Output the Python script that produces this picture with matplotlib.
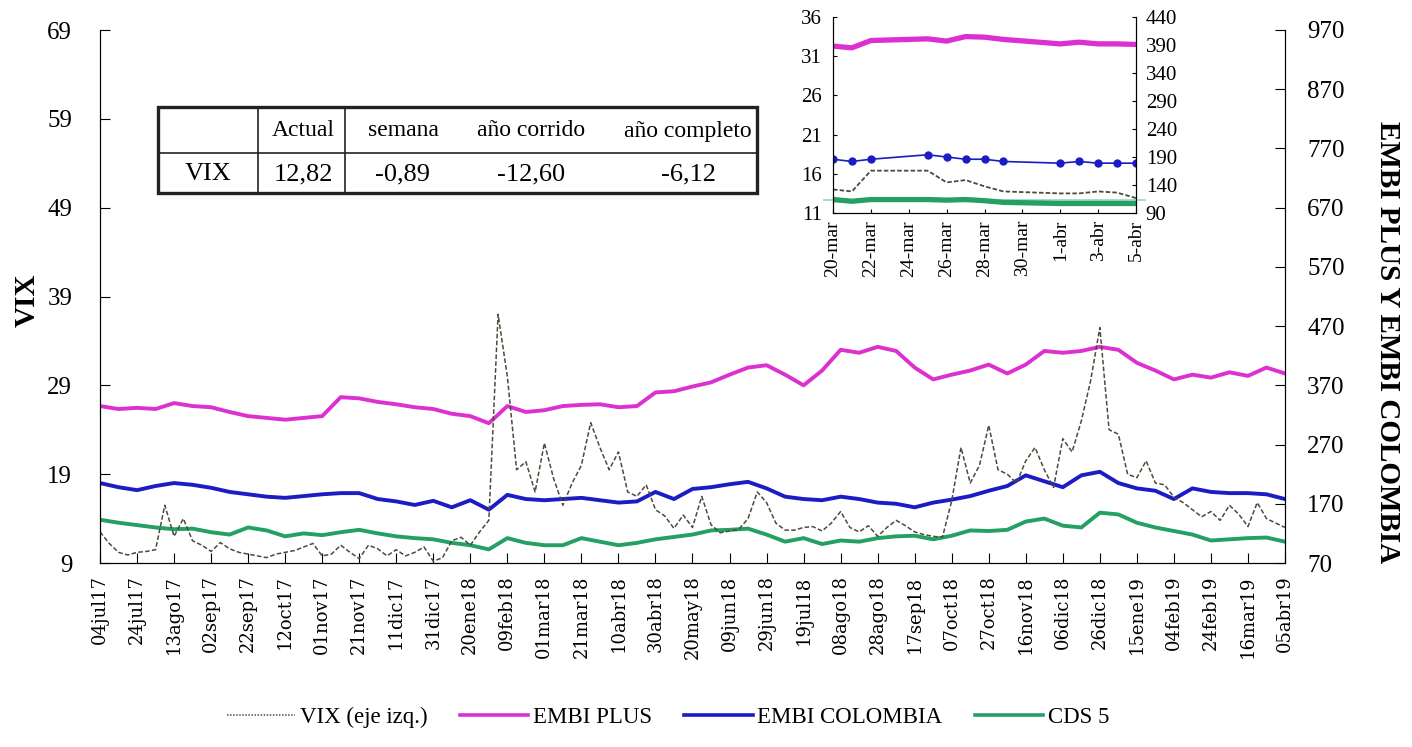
import matplotlib.pyplot as plt
import numpy as np
import pandas as pd
from matplotlib.lines import Line2D
from matplotlib.patches import Rectangle

plt.rcParams['font.family'] = ['Liberation Serif', 'DejaVu Serif']

# --- datos ---
inicio = pd.Timestamp('2017-07-04')
fechas_vix = pd.date_range(inicio, periods=129, freq='5D')
fechas_spread = pd.date_range(inicio, periods=65, freq='10D')

vix = [12.5, 11.2, 10.2, 9.9, 10.2, 10.3, 10.5, 15.5, 12.0, 14.0,
       11.5, 11.0, 10.3, 11.3, 10.6, 10.2, 10.0, 9.8, 9.6, 10.0,
       10.2, 10.4, 10.8, 11.2, 9.8, 10.0, 11.0, 10.2, 9.5, 11.0,
       10.6, 9.8, 10.5, 9.8, 10.2, 10.8, 9.2, 9.6, 11.5, 11.9,
       11.0, 12.5, 13.8, 37.0, 30.0, 19.5, 20.4, 17.0, 22.5, 18.5,
       15.5, 18.0, 20.0, 24.8, 22.0, 19.5, 21.5, 17.0, 16.5, 17.8,
       15.0, 14.3, 12.9, 14.4, 13.0, 16.5, 13.3, 12.4, 12.6, 12.8,
       14.0, 17.0, 15.8, 13.5, 12.7, 12.7, 13.0, 13.1, 12.6, 13.5,
       14.8, 13.0, 12.5, 13.2, 12.0, 13.0, 13.8, 13.2, 12.5, 12.2,
       12.0, 11.9, 16.0, 22.0, 18.0, 20.0, 24.5, 19.5, 19.0, 18.0,
       20.5, 22.0, 19.5, 17.5, 23.0, 21.5, 25.0, 29.5, 35.5, 24.0,
       23.5, 19.0, 18.6, 20.5, 18.0, 17.8, 16.4, 15.8, 15.0, 14.2,
       14.8, 13.8, 15.5, 14.5, 13.1, 15.8, 14.0, 13.5, 13.0]

embi_plus = [335, 330, 332, 330, 340, 335, 333, 325, 318, 315,
             312, 315, 318, 350, 348, 342, 338, 333, 330, 322,
             318, 306, 335, 325, 328, 335, 337, 338, 333, 335,
             358, 360, 368, 375, 388, 400, 404, 388, 370, 395,
             430, 425, 435, 428, 400, 380, 388, 395, 405, 390,
             405, 428, 425, 428, 435, 430, 408, 395, 380, 388,
             383, 392, 386, 400, 390]

embi_col = [205, 198, 193, 200, 205, 202, 197, 190, 186, 182,
            180, 183, 186, 188, 188, 178, 174, 168, 175, 164,
            176, 160, 185, 178, 176, 178, 180, 176, 172, 174,
            190, 178, 195, 198, 203, 207, 196, 182, 178, 176,
            182, 178, 172, 170, 164, 172, 177, 183, 192, 200,
            218, 208, 198, 218, 224, 205, 196, 192, 178, 196,
            190, 188, 188, 186, 178]

cds5 = [143, 138, 134, 130, 127, 128, 122, 118, 130, 125,
        115, 120, 117, 122, 126, 120, 115, 112, 110, 104,
        100, 93, 112, 104, 100, 100, 112, 106, 100, 104,
        110, 114, 118, 125, 126, 128, 118, 106, 112, 102,
        108, 106, 112, 115, 116, 110, 116, 125, 124, 126,
        140, 145, 133, 130, 155, 152, 138, 130, 124, 118,
        108, 110, 112, 113, 106]

fechas_ticks = pd.date_range(inicio, periods=33, freq='20D')
etiquetas_x = ['04jul17', '24jul17', '13ago17', '02sep17', '22sep17', '12oct17',
               '01nov17', '21nov17', '11dic17', '31dic17', '20ene18', '09feb18',
               '01mar18', '21mar18', '10abr18', '30abr18', '20may18', '09jun18',
               '29jun18', '19jul18', '08ago18', '28ago18', '17sep18', '07oct18',
               '27oct18', '16nov18', '06dic18', '26dic18', '15ene19', '04feb19',
               '24feb19', '16mar19', '05abr19']

# recuadro: ultimas semanas
fechas_zoom = pd.to_datetime(['2019-03-20', '2019-03-21', '2019-03-22', '2019-03-25',
                              '2019-03-26', '2019-03-27', '2019-03-28', '2019-03-29',
                              '2019-04-01', '2019-04-02', '2019-04-03', '2019-04-04',
                              '2019-04-05'])
vix_zoom = [14.0, 13.75, 16.4, 16.4, 14.9, 15.2, 14.4, 13.75, 13.5, 13.5, 13.75, 13.6, 12.9]
embi_plus_zoom = [388, 385, 398, 401, 397, 405, 404, 400, 392, 395, 392, 392, 391]
embi_col_zoom = [186, 182, 186, 194, 190, 186, 186, 182, 179, 182, 179, 179, 179]
cds5_zoom = [114, 111, 114, 114, 113, 114, 112, 109, 107, 107, 107, 107, 107]
ticks_zoom = pd.date_range('2019-03-20', '2019-04-05', freq='2D')
etiquetas_zoom = ['20-mar', '22-mar', '24-mar', '26-mar', '28-mar', '30-mar',
                  '1-abr', '3-abr', '5-abr']

tabla_cab = ['', 'Actual', 'semana', 'año corrido', 'año completo']
tabla_fila = ['VIX', '12,82', '-0,89', '-12,60', '-6,12']

C_VIX = '#4d4a3c'
C_PLUS = '#dd30d0'
C_COL = '#1c1cc4'
C_CDS = '#23a062'

W, H = 1412, 747
fig = plt.figure(figsize=(W / 100, H / 100), dpi=100)


def fx(x):
    return x / W


def fy(y):
    return 1 - y / H


# --- grafico principal ---
ax = fig.add_axes([fx(100), fy(563), fx(1285) - fx(100), fy(30) - fy(563)])
ax2 = ax.twinx()
ax.set_zorder(ax2.get_zorder() + 1)
ax.patch.set_visible(False)

ax2.plot(fechas_spread, embi_plus, color=C_PLUS, lw=2.8)
ax2.plot(fechas_spread, embi_col, color=C_COL, lw=2.8)
ax2.plot(fechas_spread, cds5, color=C_CDS, lw=2.8)
ax.plot(fechas_vix, vix, color=C_VIX, lw=1.1, ls=(0, (3, 1.5)))

ax.set_ylim(9, 69)
ax.set_yticks(np.arange(9, 70, 10))
ax2.set_ylim(70, 970)
ax2.set_yticks(np.arange(70, 971, 100))
ax.set_xlim(fechas_ticks[0], fechas_ticks[-1])
ax.set_xticks(fechas_ticks)
ax.set_xticklabels(etiquetas_x, rotation=90, family='DejaVu Serif')

for a in (ax, ax2):
    a.spines['top'].set_visible(False)
    a.tick_params(direction='in', labelsize=18, length=7)
ax.tick_params(axis='y', pad=20)
ax2.tick_params(axis='y', pad=16)
ax.tick_params(axis='x', labelsize=13, pad=9)

fig.text(fx(27), fy(300), 'VIX', rotation=90, fontsize=21, fontweight='bold',
         ha='center', va='center')
fig.text(fx(1387), fy(342), 'EMBI PLUS Y EMBI COLOMBIA', rotation=-90, fontsize=21,
         fontweight='bold', ha='center', va='center')

# --- tabla ---
x0, x1, y0, y1 = 158, 757, 107, 193
fig.add_artist(Rectangle((fx(x0), fy(y1)), fx(x1) - fx(x0), fy(y0) - fy(y1),
                         transform=fig.transFigure, fill=False, lw=2.4, ec='#222'))
fig.add_artist(Line2D([fx(x0), fx(x1)], [fy(153), fy(153)], transform=fig.transFigure,
                      lw=1.2, color='#222'))
for xv in (258, 345):
    fig.add_artist(Line2D([fx(xv), fx(xv)], [fy(y0), fy(y1)], transform=fig.transFigure,
                          lw=1.2, color='#222'))
centros = [208, 303, 403, 531, 688]
for cx, t1, t2 in zip(centros, tabla_cab, tabla_fila):
    fig.text(fx(cx), fy(131), t1, fontsize=17, ha='center', va='center')
    fig.text(fx(cx), fy(174), t2, fontsize=19, ha='center', va='center')

# --- recuadro ---
axi = fig.add_axes([fx(833), fy(213), fx(1136) - fx(833), fy(17) - fy(213)])
axi2 = axi.twinx()
axi.set_zorder(axi2.get_zorder() + 1)
axi.patch.set_visible(False)
axi2.axhline(114, color='#9fd6d6', lw=1.3, xmin=-0.03, xmax=1.03, clip_on=False)
axi2.plot(fechas_zoom, embi_plus_zoom, color=C_PLUS, lw=3.8)
axi2.plot(fechas_zoom, cds5_zoom, color=C_CDS, lw=3.8)
axi2.plot(fechas_zoom, embi_col_zoom, color=C_COL, lw=1.2, marker='o', ms=5)
axi.plot(fechas_zoom, vix_zoom, color=C_VIX, lw=1.3, ls=(0, (2.5, 1.2)))
axi.set_ylim(11, 36)
axi.set_yticks(np.arange(11, 37, 5))
axi2.set_ylim(90, 440)
axi2.set_yticks(np.arange(90, 441, 50))
axi.set_xlim(ticks_zoom[0], ticks_zoom[-1])
axi.set_xticks(ticks_zoom)
axi.set_xticklabels(etiquetas_zoom, rotation=90)
for a in (axi, axi2):
    a.spines['top'].set_visible(False)
    a.tick_params(direction='in', labelsize=15, length=3, pad=5)
axi.tick_params(axis='y', pad=8)
axi2.tick_params(axis='y', pad=7)
axi.tick_params(axis='x', labelsize=14)

# --- leyenda ---
manijas = [Line2D([], [], color=C_VIX, lw=1.1, ls=(0, (1, 1))),
           Line2D([], [], color=C_PLUS, lw=2.6),
           Line2D([], [], color=C_COL, lw=2.6),
           Line2D([], [], color=C_CDS, lw=2.6)]
nombres = ['VIX (eje izq.)', 'EMBI PLUS', 'EMBI COLOMBIA', 'CDS 5']
fig.legend(manijas, nombres, loc='center', bbox_to_anchor=(fx(668), fy(717)), ncol=4,
           frameon=False, fontsize=16.5, handlelength=3.0, columnspacing=1.4, handletextpad=0.2)

fig.savefig('out.png', dpi=100)
